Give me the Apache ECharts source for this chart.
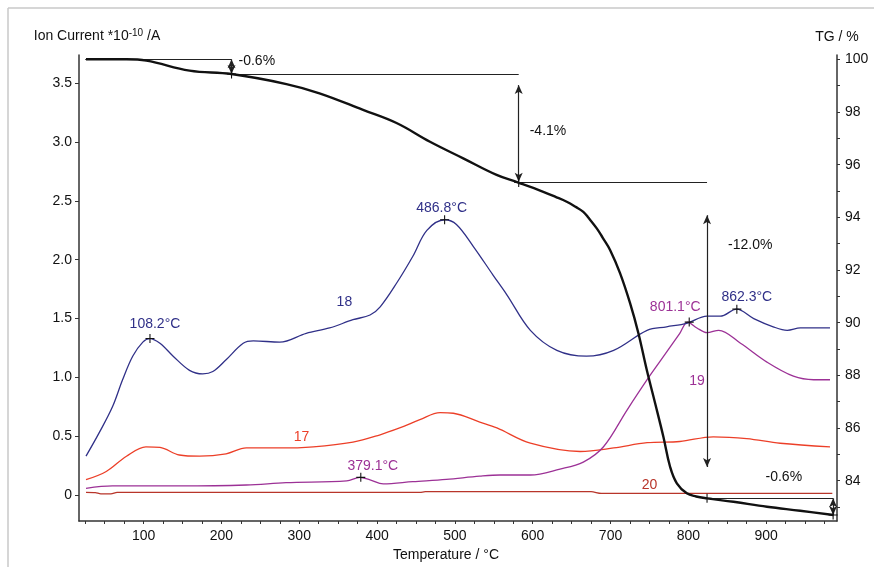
<!DOCTYPE html>
<html><head><meta charset="utf-8">
<script src="https://cdn.jsdelivr.net/npm/echarts@6/dist/echarts.min.js"></script>
<style>html,body{margin:0;padding:0;background:#fff}#c{width:874px;height:567px}</style>
</head><body><div id="c"></div>
<script>
// ---------- data ----------
const tgT = [26, 78, 103.5, 159, 213, 283.5, 326, 382, 425, 468, 510.7, 553.6, 581.4, 613.6, 630, 643.7, 655, 665, 672, 682.3, 690, 699.4, 712.2, 725.1, 735.8, 746.6, 757.3, 767.9, 776.5, 785.2, 798, 810, 823.7, 858, 901, 943.7, 986.6];
const tgV = [100, 100, 99.95, 99.57, 99.44, 99.06, 98.71, 98.08, 97.58, 96.87, 96.24, 95.61, 95.32, 94.97, 94.77, 94.59, 94.40, 94.21, 93.97, 93.58, 93.22, 92.76, 91.88, 90.74, 89.60, 88.20, 86.94, 85.67, 84.53, 83.90, 83.52, 83.40, 83.33, 83.20, 83.01, 82.86, 82.70];

const m18T = [26, 43, 60, 73, 86, 99, 108, 121, 138, 159, 176, 189, 206, 228, 241, 275, 309, 339, 369, 391, 404, 425, 446, 464, 487, 502, 524, 549, 567, 597, 631, 669, 704, 747, 772, 798, 824, 841, 862, 884, 909, 927, 944, 982];
const m18V = [0.33, 0.53, 0.75, 0.98, 1.18, 1.30, 1.33, 1.29, 1.18, 1.06, 1.03, 1.05, 1.15, 1.29, 1.31, 1.30, 1.375, 1.42, 1.49, 1.53, 1.60, 1.80, 2.03, 2.25, 2.34, 2.30, 2.11, 1.87, 1.70, 1.40, 1.23, 1.18, 1.23, 1.40, 1.43, 1.46, 1.52, 1.52, 1.58, 1.50, 1.43, 1.40, 1.42, 1.42];

const m17T = [26, 52, 78, 103, 121, 146, 172, 206, 232, 275, 318, 369, 403, 429, 455, 481, 498, 532, 554, 597, 661, 704, 747, 789, 832, 875, 918, 982];
const m17V = [0.13, 0.20, 0.33, 0.41, 0.405, 0.34, 0.33, 0.35, 0.40, 0.40, 0.41, 0.45, 0.51, 0.57, 0.64, 0.70, 0.695, 0.62, 0.57, 0.44, 0.37, 0.40, 0.445, 0.455, 0.495, 0.48, 0.44, 0.41];

const m19T = [26, 60, 146, 232, 283, 361, 378, 391, 408, 446, 489, 532, 558, 597, 635, 665, 691, 721, 747, 764, 789, 799, 811, 824, 839, 867, 901, 935, 961, 982];
const m19V = [0.057, 0.077, 0.077, 0.085, 0.105, 0.12, 0.15, 0.128, 0.094, 0.113, 0.133, 0.16, 0.17, 0.17, 0.22, 0.28, 0.41, 0.72, 0.98, 1.14, 1.375, 1.47, 1.42, 1.38, 1.40, 1.29, 1.13, 1.01, 0.98, 0.98];

const m20T = [26, 38, 45, 58, 66, 455, 462, 675, 688, 985];
const m20V = [0.022, 0.02, 0.01, 0.01, 0.022, 0.022, 0.028, 0.028, 0.014, 0.014];

// TG steps
const stepStart = 25;
const stepT = [213, 582, 824, 986];
const stepFrom = [100, 99.44, 95.32, 83.33];
const stepTo = [99.44, 95.32, 83.33, 82.70];
const arrowFrom = [100, 99.02, 94.08, 83.33];
const arrowTo = [99.44, 95.35, 84.52, 82.70];
const stepText = ['-0.6%', '-4.1%', '-12.0%', '-0.6%'];

// peaks
const peaks18T = [108.2, 486.8, 862.3];
const peaks18V = [1.33, 2.34, 1.58];
const peaks19T = [379.1, 801.1];
const peaks19V = [0.15, 1.47];

// series name labels (m/z)
const massNames = ['18', '17', '19', '20'];
const massLabelT = [358, 303, 811, 750];
const massLabelV = [1.64, 0.49, 0.97, 0.085];

// axis ticks
const xLabels = [100, 200, 300, 400, 500, 600, 700, 800, 900];
const yLeftLabels = [0, 0.5, 1.0, 1.5, 2.0, 2.5, 3.0, 3.5];
const yRightLabels = [84, 86, 88, 90, 92, 94, 96, 98, 100];

// ---------- styles ----------
const C18 = '#303088', C17 = '#ec3f28', C19 = '#9c3196', C20 = '#b8352a', CTG = '#111111';
const FONT = 'Liberation Sans, Arial, sans-serif';
const zip = (a, b) => a.map((t, i) => [t, b[i]]);
const xTicks = []; for (let t = 25; t <= 975; t += 25) xTicks.push(t);
const rTicks = []; for (let t = 83; t <= 100; t += 1) rTicks.push(t);
const cross = 'path://M4.4,0h1.2v4.4h4.4v1.2h-4.4v4.4h-1.2v-4.4h-4.4v-1.2h4.4z';

function curve(name, T, V, color, yi, w, sm) {
  return { name, type: 'line', xAxisIndex: 0, yAxisIndex: yi, data: zip(T, V), showSymbol: false,
    smooth: sm, lineStyle: { color, width: w }, itemStyle: { color }, z: yi ? 5 : 3, silent: true };
}

const horiz = stepT.map((t, i) => [{ coord: [i === 0 ? stepStart : stepT[i - 1], stepFrom[i]] }, { coord: [t, stepFrom[i]] }]);
const arrows = stepT.map((t, i) => [{ coord: [t, arrowFrom[i]] }, { coord: [t, arrowTo[i]] }]);
const labelOffsets = [[2, -6], [6, -2], [16, -96], [-26, -30]];
const labelPos = ['right', 'right', 'right', 'left'];

const peakStyle18 = [{ off: [5, 0], d: 3 }, { off: [-3, 0], d: 0 }, { off: [10, 0], d: 1 }];
const peakStyle19 = [{ off: [12, 0], d: 0 }, { off: [-14, 0], d: 3 }];
const massColors = [C18, C17, C19, C20];
const solid = { opacity: 1 };

const option = {
  animation: false,
  backgroundColor: '#fff',
  textStyle: { fontFamily: FONT },
  grid: { left: 79, right: 37, top: 55, height: 466 },
  xAxis: {
    type: 'value', min: 17, max: 991,
    name: 'Temperature / °C', nameLocation: 'middle', nameGap: 24,
    nameTextStyle: { fontSize: 14, color: '#111', fontFamily: FONT, padding: [0, 24, 0, 0] },
    axisLine: { onZero: false, lineStyle: { color: '#333', width: 1.5 } },
    axisTick: { show: true, inside: false, length: 3, customValues: xTicks, lineStyle: { color: '#333' } },
    axisLabel: { customValues: xLabels, fontSize: 14, color: '#111', margin: 8, fontFamily: FONT },
    splitLine: { show: false }
  },
  yAxis: [
    {
      type: 'value', position: 'left', min: -0.221, max: 3.7406,
      name: 'Ion Current *10{sup|-10} /A', nameLocation: 'end', nameGap: 11,
      nameTextStyle: { fontSize: 14, color: '#111', fontFamily: FONT, align: 'center', padding: [0, 0, 0, 36],
        rich: { sup: { fontSize: 10, color: '#111', fontFamily: FONT, padding: [0, 0, 6, 0] } } },
      axisLine: { show: true, onZero: false, lineStyle: { color: '#333', width: 1.5 } },
      axisTick: { show: true, length: 4, customValues: yLeftLabels, lineStyle: { color: '#333' } },
      axisLabel: { customValues: yLeftLabels, fontSize: 14, color: '#111', margin: 7, fontFamily: FONT,
        formatter: v => (v === 0 ? '0' : v.toFixed(1)) },
      splitLine: { show: false }
    },
    {
      type: 'value', position: 'right', min: 82.47, max: 100.163,
      name: 'TG / %', nameLocation: 'end', nameGap: 11,
      nameTextStyle: { fontSize: 14, color: '#111', fontFamily: FONT },
      axisLine: { show: true, onZero: false, lineStyle: { color: '#333', width: 1.5 } },
      axisTick: { show: true, length: 3, customValues: rTicks, lineStyle: { color: '#333' } },
      axisLabel: { customValues: yRightLabels, fontSize: 14, color: '#111', margin: 8, fontFamily: FONT },
      splitLine: { show: false }
    }
  ],
  graphic: [
    { type: 'line', shape: { x1: 8, y1: 8, x2: 874, y2: 8 }, style: { stroke: '#c8c8c8', lineWidth: 1.5 }, silent: true },
    { type: 'line', shape: { x1: 8, y1: 8, x2: 8, y2: 567 }, style: { stroke: '#c8c8c8', lineWidth: 1.5 }, silent: true }
  ],
  series: [
    curve('20', m20T, m20V, C20, 0, 1.3, 0.3),
    curve('17', m17T, m17V, C17, 0, 1.3, 0.35),
    curve('19', m19T, m19V, C19, 0, 1.3, 0.35),
    curve('18', m18T, m18V, C18, 0, 1.3, 0.35),
    curve('TG', tgT, tgV, CTG, 1, 2.4, 0.4),
    { name: 'steps', type: 'line', yAxisIndex: 1, data: [], silent: true,
      markLine: { silent: true, symbol: 'none', label: { show: false }, animation: false,
        lineStyle: { color: '#222', width: 1.2, type: 'solid' }, data: horiz } },
    { name: 'arrows', type: 'line', yAxisIndex: 1, data: [], silent: true,
      markLine: { silent: true, symbol: ['arrow', 'arrow'], symbolSize: [6, 9], label: { show: false }, animation: false,
        lineStyle: { color: '#222', width: 1.2, type: 'solid' }, data: arrows } },
    { name: 'stepMarks', type: 'scatter', yAxisIndex: 1, symbol: cross, symbolSize: 9,
      itemStyle: { color: '#111', opacity: 1 }, data: zip(stepT, stepTo), z: 6, silent: true },
    { name: 'stepLabels', type: 'scatter', yAxisIndex: 1, symbolSize: 0, silent: true, z: 6, itemStyle: solid,
      data: stepT.map((t, i) => ({ value: [t, (arrowFrom[i] + arrowTo[i]) / 2],
        label: { show: true, formatter: stepText[i], position: labelPos[i], offset: labelOffsets[i],
          fontSize: 14, color: '#111', fontFamily: FONT } })) },
    { name: 'peaks18', type: 'scatter', yAxisIndex: 0, symbol: cross, symbolSize: 9, silent: true, z: 6,
      itemStyle: { color: '#111', opacity: 1 },
      data: peaks18T.map((t, i) => ({ value: [t, peaks18V[i]],
        label: { show: true, position: 'top', distance: peakStyle18[i].d, offset: peakStyle18[i].off,
          formatter: t.toFixed(1) + '°C', fontSize: 14, color: C18, fontFamily: FONT } })) },
    { name: 'peaks19', type: 'scatter', yAxisIndex: 0, symbol: cross, symbolSize: 9, silent: true, z: 6,
      itemStyle: { color: '#111', opacity: 1 },
      data: peaks19T.map((t, i) => ({ value: [t, peaks19V[i]],
        label: { show: true, position: 'top', distance: peakStyle19[i].d, offset: peakStyle19[i].off,
          formatter: t.toFixed(1) + '°C', fontSize: 14, color: C19, fontFamily: FONT } })) },
    { name: 'massNames', type: 'scatter', yAxisIndex: 0, symbolSize: 0, silent: true, z: 6, itemStyle: solid,
      data: massNames.map((n, i) => ({ value: [massLabelT[i], massLabelV[i]],
        label: { show: true, position: 'inside', formatter: n, fontSize: 14, color: massColors[i], fontFamily: FONT } })) }
  ]
};
echarts.init(document.getElementById('c'), null, { renderer: 'canvas' }).setOption(option);
</script>
</body></html>
